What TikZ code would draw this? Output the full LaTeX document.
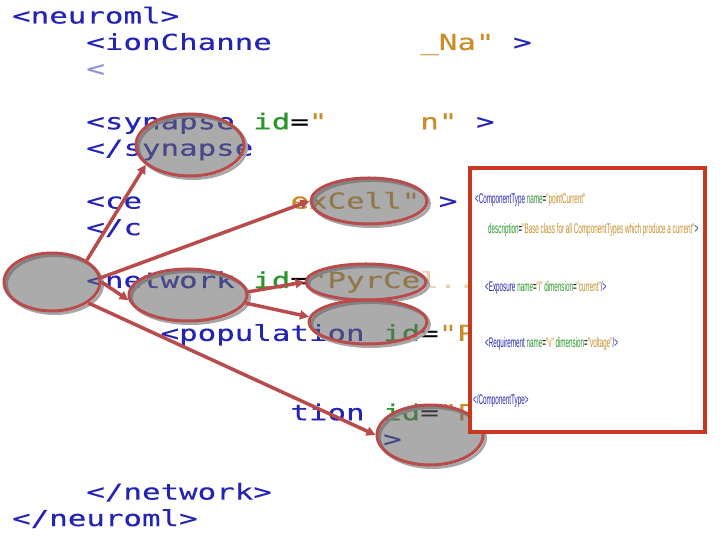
\documentclass[tikz,border=0pt]{standalone}
\usepackage{fontspec}
\usepackage{tikz}
\usetikzlibrary{shapes.geometric,arrows.meta,shadows}
\setmonofont{DejaVu Sans Mono}[FakeStretch=1.4,FakeBold=0.3]
\newfontfamily\boxfont{Liberation Sans}[FakeStretch=0.45,Ligatures=TeXOff]
\definecolor{tagblue}{RGB}{36,36,180}
\definecolor{attgreen}{RGB}{40,150,40}
\definecolor{valorange}{RGB}{200,140,40}
\definecolor{blobred}{RGB}{184,76,76}
\definecolor{boxred}{RGB}{200,56,30}
\newcommand{\xtag}[1]{\textcolor{tagblue}{#1}}
\newcommand{\xatt}[1]{\textcolor{attgreen}{#1}}
\newcommand{\xval}[1]{\textcolor{valorange}{#1}}
% one piece of the listing: name, column, line, text
\newcommand{\codeat}[4]{\node[code] (#1) at ({12+18.55*#2},{516.5-26.45*#3}) {#4};}

\begin{document}
\begin{tikzpicture}[
    x=1pt, y=1pt,
    code/.style={font=\ttfamily\fontsize{22}{23}\selectfont, inner sep=0pt, anchor=base west},
    boxtxt/.style={font=\boxfont\fontsize{14}{15}\selectfont, inner sep=0pt, anchor=base west},
    blob/.style={ellipse, draw=blobred, line width=3pt, fill=black!60, fill opacity=0.55, inner sep=0pt,
        general shadow={shadow xshift=2.5pt, shadow yshift=-2.5pt, draw=black!35, line width=3pt}},
    arrow/.style={-{Triangle[length=9pt,width=9pt]}, line width=3.5pt, draw=blobred}
]
\useasboundingbox (0,0) rectangle (720,540);

% the listing
\codeat{l0}{0}{0}{\xtag{<neuroml>}}
\codeat{l1a}{4}{1}{\xtag{<ionChanne}}
\codeat{l1b}{22}{1}{\xval{\_Na"}}
\codeat{l1c}{27}{1}{\xtag{>}}
\codeat{l2}{4}{2}{\textcolor{tagblue!50}{<}}
\codeat{l4a}{4}{4}{\xtag{<synapse} \xatt{id}=\xval{"}}
\codeat{l4b}{22}{4}{\xval{n"}}
\codeat{l4c}{25}{4}{\xtag{>}}
\codeat{l5}{4}{5}{\xtag{</synapse}}
\codeat{l7a}{4}{7}{\xtag{<ce}}
\codeat{l7b}{15}{7}{\xval{exCell"} \xtag{>}}
\codeat{l8}{4}{8}{\xtag{</c}}
\codeat{l10}{4}{10}{\xtag{<network} \xatt{id}=\xval{"PyrCe}\textcolor{valorange!40}{l..}}
\codeat{l12}{8}{12}{\xtag{<population} \xatt{id}=\xval{"P}}
\codeat{l15}{15}{15}{\xtag{tion} \xatt{id}=\xval{"P}}
\codeat{l16}{20}{16}{\xtag{>}}
\codeat{l18}{4}{18}{\xtag{</network>}}
\codeat{l19}{0}{19}{\xtag{</neuroml>}}

% the element blobs
\node[blob, minimum width=96pt, minimum height=58pt] (root) at (52,258) {};
\node[blob, minimum width=108pt, minimum height=62pt] (syn) at (190,395) {};
\node[blob, minimum width=116pt, minimum height=46pt] (cell) at (369,339) {};
\node[blob, minimum width=118pt, minimum height=52pt] (net) at (188,245) {};
\node[blob, minimum width=120pt, minimum height=36pt] (pyr) at (366,258) {};
\node[blob, minimum width=118pt, minimum height=44pt] (pop) at (368,218) {};
\node[blob, minimum width=106pt, minimum height=60pt] (proj) at (430,105) {};

\draw[arrow] (root.32) -- (syn.204);
\draw[arrow] (root.5) -- (cell.west);
\draw[arrow] (root.east) -- (net.185);
\draw[arrow] (root.-30) -- (proj.west);
\draw[arrow] (net.3) -- (pyr.west);
\draw[arrow] (net.-8) -- (pop.175);

% the ComponentType panel
\node[draw=boxred, line width=3.5pt, fill=white, minimum width=235pt, minimum height=264pt, inner sep=0pt] (panel) at (587.5,240) {};
\node[boxtxt] (b1) at (475,336) {\xtag{<ComponentType} \xatt{name}=\xval{"pointCurrent"}};
\node[boxtxt] (b2) at (488,306) {\xatt{description}=\xval{"Base class for all ComponentTypes which produce a current"}\xtag{>}};
\node[boxtxt] (b3) at (485,248) {\xtag{<Exposure} \xatt{name}=\xval{"i"} \xatt{dimension}=\xval{"current"}\xtag{/>}};
\node[boxtxt] (b4) at (485,192) {\xtag{<Requirement} \xatt{name}=\xval{"v"} \xatt{dimension}=\xval{"voltage"}\xtag{/>}};
\node[boxtxt] (b5) at (473,135) {\xtag{</ComponentType>}};

\end{tikzpicture}
\end{document}
